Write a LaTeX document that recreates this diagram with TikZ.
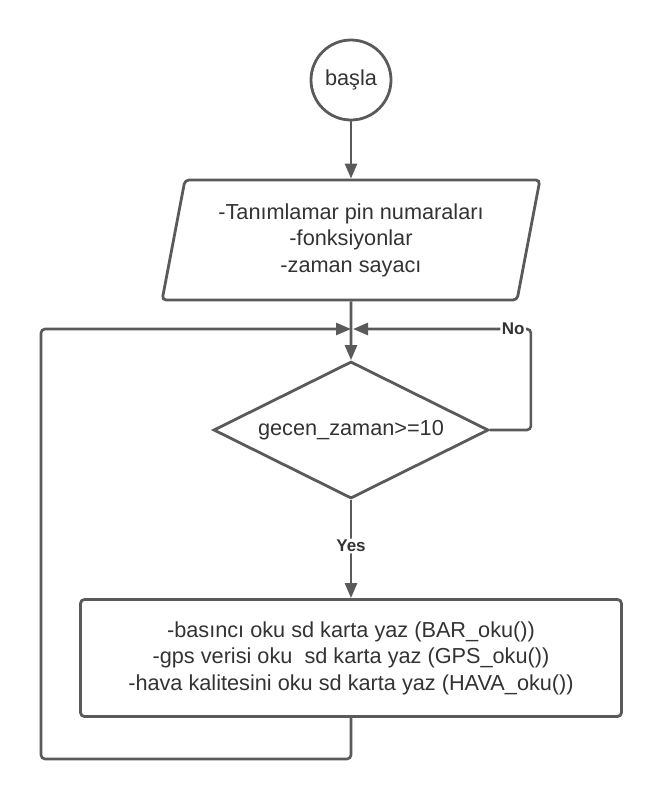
\documentclass[tikz,border=0pt]{standalone}
\usepackage{fontspec}
\setmainfont{Liberation Sans}
\usetikzlibrary{shapes.geometric,arrows.meta}
\definecolor{edgegray}{HTML}{5A5A5A}
\definecolor{inkgray}{HTML}{333333}
\begin{document}
\begin{tikzpicture}[x=1pt,y=-1pt,
  box/.style={draw=edgegray, line width=2.8pt, text=inkgray, font=\fontsize{21.7}{26.5}\selectfont, align=center, inner sep=0pt},
  flow/.style={draw=edgegray, line width=2.6pt, rounded corners=4pt, -{Triangle[length=15pt,width=12pt]}},
  lbl/.style={fill=white, text=inkgray, font=\fontsize{17}{19}\selectfont\bfseries, inner sep=1.5pt}]
\useasboundingbox (0,0) rectangle (661,801);
\node [box, circle, minimum size=80pt] (start) at (351,80) {başla};
\node [box, trapezium, trapezium left angle=76, trapezium right angle=104, trapezium stretches=true, minimum width=378pt, minimum height=120pt, rounded corners=4pt] (init) at (351,240) {-Tanımlamar pin numaraları\\-fonksiyonlar\\-zaman sayacı};
\node [box, diamond, aspect=2, minimum width=275pt, minimum height=137pt] (cond) at (351,430) {gecen\_zaman>=10};
\node [box, rectangle, rounded corners=4pt, minimum width=541pt, minimum height=117pt] (act) at (351,658) {-basıncı oku sd karta yaz (BAR\_oku())\\-gps verisi oku\ \ sd karta yaz (GPS\_oku())\\-hava kalitesini oku sd karta yaz (HAVA\_oku())};
\coordinate (merge) at (351,329);
\coordinate (loopcorner) at (41,759);
\draw [flow] (start) -- (init);
\draw [flow] (init) -- (cond);
\draw [flow] (cond) -- (act) node [lbl, pos=0.47] (yes) {Yes};
\draw [flow] (act.south) |- (loopcorner) |- (merge);
\draw [flow] (cond.east) -- ++(41,0) |- ([xshift=2pt]merge) node [lbl, pos=0.55] (no) {No};
\end{tikzpicture}
\end{document}
